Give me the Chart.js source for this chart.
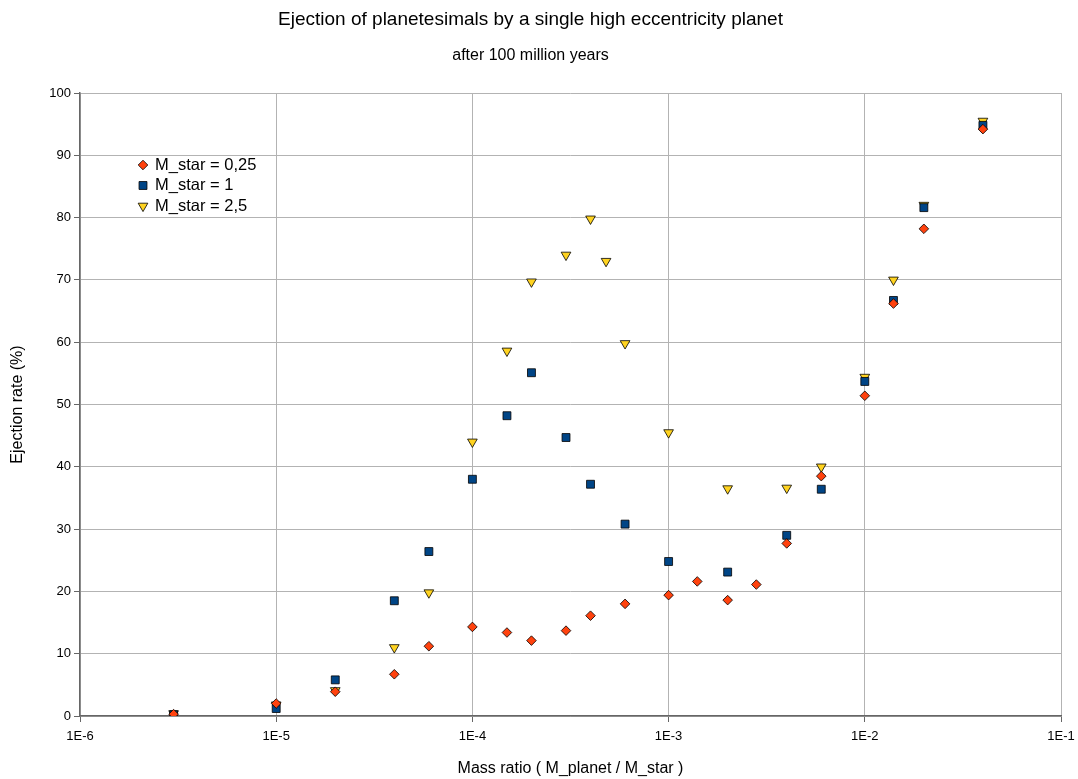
<!DOCTYPE html>
<html>
<head>
<meta charset="utf-8">
<title>Ejection of planetesimals</title>
<script src="https://cdn.jsdelivr.net/npm/chart.js@4.4.1/dist/chart.umd.min.js"></script>
<style>
  html, body { margin: 0; background: #fff; overflow: hidden; }
  #wrap { width: 1078px; height: 779px; }
</style>
</head>
<body>
<div id="wrap"><canvas id="ejectionChart"></canvas></div>
<script>
// data
const xDecades = [1e-6, 1e-5, 1e-4, 1e-3, 1e-2, 1e-1];
const xTickLabels = ['1E-6', '1E-5', '1E-4', '1E-3', '1E-2', '1E-1'];

const star025X = [3e-6, 1e-5, 2e-5, 4e-5, 6e-5, 1e-4, 1.5e-4, 2e-4, 3e-4, 4e-4, 6e-4, 1e-3, 1.4e-3, 2e-3, 2.8e-3, 4e-3, 6e-3, 1e-2, 1.4e-2, 2e-2, 4e-2];
const star025Y = [0.3, 2.0, 3.9, 6.7, 11.2, 14.3, 13.4, 12.1, 13.7, 16.1, 18.0, 19.4, 21.6, 18.6, 21.1, 27.7, 38.5, 51.4, 66.2, 78.2, 94.2];

const star1X = [3e-6, 1e-5, 2e-5, 4e-5, 6e-5, 1e-4, 1.5e-4, 2e-4, 3e-4, 4e-4, 6e-4, 1e-3, 2e-3, 4e-3, 6e-3, 1e-2, 1.4e-2, 2e-2, 4e-2];
const star1Y = [0.2, 1.2, 5.8, 18.5, 26.4, 38.0, 48.2, 55.1, 44.7, 37.2, 30.8, 24.8, 23.1, 29.0, 36.4, 53.7, 66.7, 81.6, 94.8];

const star25X = [3e-6, 1e-5, 2e-5, 4e-5, 6e-5, 1e-4, 1.5e-4, 2e-4, 3e-4, 4e-4, 4.8e-4, 6e-4, 1e-3, 2e-3, 4e-3, 6e-3, 1e-2, 1.4e-2, 2e-2, 4e-2];
const star25Y = [0.4, 1.8, 4.1, 11.0, 19.8, 44.0, 58.6, 69.7, 74.0, 79.8, 73.0, 59.8, 45.5, 36.5, 36.6, 40.0, 54.4, 70.0, 82.0, 95.5];

const toPoints = (xs, ys) => xs.map((x, i) => ({ x: x, y: ys[i] }));

const FONT = '"Liberation Sans", Arial, sans-serif';

// legend drawn inside the plot, top left
const innerLegend = {
  id: 'innerLegend',
  afterDatasetsDraw(chart) {
    const ctx = chart.ctx;
    const x0 = chart.chartArea.left + 63;
    let y = chart.chartArea.top + 72;
    ctx.save();
    ctx.font = '16.5px ' + FONT;
    ctx.textBaseline = 'middle';
    chart.data.datasets.forEach(ds => {
      ctx.fillStyle = ds.backgroundColor;
      ctx.strokeStyle = ds.borderColor;
      ctx.lineWidth = ds.borderWidth;
      Chart.helpers.drawPoint(ctx, {
        pointStyle: ds.pointStyle,
        rotation: ds.pointRotation || 0,
        radius: ds.pointRadius,
        borderWidth: ds.borderWidth
      }, x0, y);
      ctx.fillStyle = '#000';
      ctx.fillText(ds.label, x0 + 12, y);
      y += 20.5;
    });
    ctx.restore();
  }
};

const canvas = document.getElementById('ejectionChart');
new Chart(canvas, {
  type: 'scatter',
  data: {
    datasets: [
      {
        label: 'M_star = 0,25',
        data: toPoints(star025X, star025Y),
        pointStyle: 'rectRot',
        pointRadius: 4.8,
        backgroundColor: '#ff420e',
        borderColor: '#000',
        borderWidth: 0.8
      },
      {
        label: 'M_star = 1',
        data: toPoints(star1X, star1Y),
        pointStyle: 'rect',
        pointRadius: 5.6,
        backgroundColor: '#004586',
        borderColor: '#000',
        borderWidth: 0.8
      },
      {
        label: 'M_star = 2,5',
        data: toPoints(star25X, star25Y),
        pointStyle: 'triangle',
        pointRotation: 180,
        pointRadius: 5.6,
        backgroundColor: '#ffd320',
        borderColor: '#000',
        borderWidth: 0.8
      }
    ]
  },
  options: {
    responsive: true,
    maintainAspectRatio: false,
    animation: false,
    layout: { padding: { left: 0, right: 17, top: 0, bottom: 0 } },
    plugins: {
      legend: { display: false },
      tooltip: { enabled: false },
      title: {
        display: true,
        text: 'Ejection of planetesimals by a single high eccentricity planet',
        color: '#000',
        font: { family: FONT, size: 19, weight: 'normal' },
        padding: { top: 8, bottom: 8 }
      },
      subtitle: {
        display: true,
        text: 'after 100 million years',
        color: '#000',
        font: { family: FONT, size: 16, weight: 'normal' },
        padding: { top: 7, bottom: 28 }
      }
    },
    scales: {
      x: {
        type: 'logarithmic',
        min: 1e-6,
        max: 1e-1,
        afterBuildTicks: scale => {
          scale.ticks = xDecades.map(v => ({ value: v }));
        },
        afterFit: scale => {
          scale.height = 63;
          // last label fits inside the right padding
          scale.paddingLeft = 10;
          scale.paddingRight = 10;
        },
        ticks: {
          color: '#000',
          font: { family: FONT, size: 13 },
          padding: 7,
          maxRotation: 0,
          autoSkip: false,
          callback: (v, i) => xTickLabels[i]
        },
        grid: { color: '#b3b3b3', tickColor: '#666', tickLength: 6 },
        border: { color: '#666', width: 1.5 },
        title: {
          display: true,
          text: 'Mass ratio ( M_planet / M_star )',
          color: '#000',
          font: { family: FONT, size: 16 },
          padding: { top: 4, bottom: 1 }
        }
      },
      y: {
        min: 0,
        max: 100,
        afterFit: scale => { scale.width = 80; },
        ticks: {
          stepSize: 10,
          color: '#000',
          font: { family: FONT, size: 13 },
          padding: 3
        },
        grid: { color: '#b3b3b3', tickColor: '#666', tickLength: 6 },
        border: { color: '#666', width: 1.5 },
        title: {
          display: true,
          text: 'Ejection rate (%)',
          color: '#000',
          font: { family: FONT, size: 16 },
          padding: { top: 8, bottom: 4 }
        }
      }
    }
  },
  plugins: [innerLegend]
});
</script>
</body>
</html>
